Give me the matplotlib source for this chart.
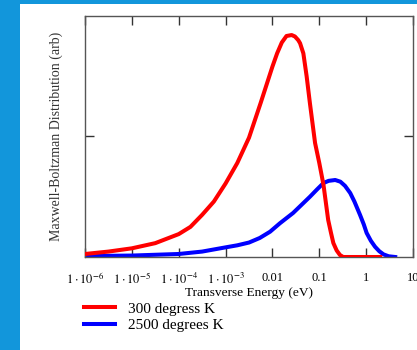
import numpy as np
import matplotlib
matplotlib.use('Agg')
import matplotlib.pyplot as plt
from matplotlib.patches import Rectangle

plt.rcParams['font.family'] = ['Liberation Serif', 'DejaVu Serif']
plt.rcParams['mathtext.fontset'] = 'stix'

# values (log10 of energy in eV, distribution in arb. units)
red_logE = [-6.0, -5.5, -5.0, -4.5, -4.0, -3.75, -3.5, -3.25, -3.0, -2.75,
            -2.5, -2.25, -2.0, -1.9, -1.8, -1.7, -1.59, -1.52, -1.45, -1.41,
            -1.34, -1.27, -1.2, -1.09, -1.0, -0.91, -0.81, -0.75, -0.7, -0.63,
            -0.56, -0.49, 0.3]
red_f = [0.025, 0.045, 0.072, 0.115, 0.19, 0.25, 0.35, 0.46, 0.61, 0.78,
         0.99, 1.28, 1.58, 1.69, 1.78, 1.834, 1.842, 1.83, 1.80, 1.774,
         1.69, 1.50, 1.276, 0.946, 0.78, 0.598, 0.307, 0.2, 0.116, 0.055,
         0.017, 0.0, 0.0]

blue_logE = [-6.0, -5.0, -4.0, -3.5, -3.0, -2.75, -2.5, -2.27, -2.05, -1.84,
             -1.56, -1.2, -1.05, -0.91, -0.8, -0.66, -0.55, -0.45, -0.34, -0.25,
             -0.13, -0.05, 0.01, 0.1, 0.19, 0.28, 0.37, 0.48, 0.62]
blue_f = [0.008, 0.012, 0.025, 0.045, 0.08, 0.097, 0.12, 0.158, 0.21, 0.28,
          0.365, 0.5, 0.56, 0.614, 0.632, 0.639, 0.625, 0.59, 0.531, 0.46,
          0.349, 0.27, 0.2, 0.135, 0.085, 0.048, 0.022, 0.006, 0.0]

xticks = [1e-6, 1e-5, 1e-4, 1e-3, 1e-2, 1e-1, 1, 10]
xticklabels = [r'$1\cdot10^{-6}$', r'$1\cdot10^{-5}$', r'$1\cdot10^{-4}$',
               r'$1\cdot10^{-3}$', '0.01', '0.1', '1', '10']
labels = ['300 degress K', '2500 degrees K']

W, H = 417, 350
fig = plt.figure(figsize=(W / 100, H / 100), dpi=100)
fig.patch.set_facecolor('#1296db')
fig.add_artist(Rectangle((20 / W, 0), 1, (H - 4) / H, transform=fig.transFigure,
                         facecolor='white', edgecolor='none', zorder=-10))

ax = fig.add_axes([85 / W, (H - 257) / H, (413 - 85) / W, (257 - 16) / H])
ax.set_facecolor('white')
ax.plot(10 ** np.array(red_logE), red_f, color='#ff0000', lw=2.9,
        label=labels[0], zorder=3)
ax.plot(10 ** np.array(blue_logE), blue_f, color='#0000ff', lw=2.9,
        label=labels[1], zorder=2)

ax.set_xscale('log')
ax.set_xlim(1e-6, 10)
ax.set_ylim(0, 2)
ax.set_xticks(xticks)
ax.set_xticklabels(xticklabels, fontsize=9)
ax.minorticks_off()
ax.set_yticks([1])
ax.set_yticklabels([])
ax.tick_params(direction='in', top=True, right=True, length=6.5, width=1,
               color='#333333', pad=10.5)
for s in ax.spines.values():
    s.set_color('#555555')
    s.set_linewidth(1)

ax.set_xlabel('Transverse Energy (eV)', fontsize=9.6, labelpad=0)
ax.set_ylabel('Maxwell-Boltzman Distribution (arb)', fontsize=10, color='#333333',
              labelpad=5)

leg = ax.legend(loc='upper left', bbox_to_anchor=(84 / W, (H - 302) / H),
                bbox_transform=fig.transFigure, frameon=False, fontsize=11,
                handlelength=2.0, handletextpad=0.9, labelspacing=0.2,
                borderpad=0, borderaxespad=0)

fig.savefig('out.png', dpi=100, facecolor=fig.get_facecolor())
